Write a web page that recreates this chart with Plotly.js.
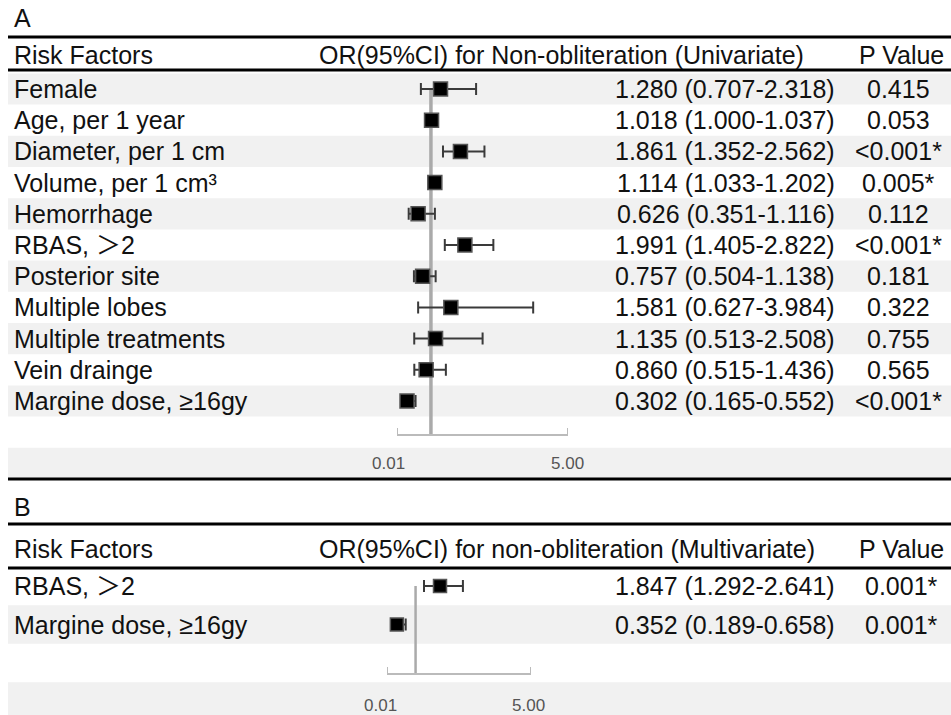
<!DOCTYPE html>
<html>
<head>
<meta charset="utf-8">
<script src="https://cdn.plot.ly/plotly-3.0.1.min.js"></script>
<style>html,body{margin:0;padding:0;background:#fff;}#chart{width:951px;height:715px;}</style>
</head>
<body>
<div id="chart"></div>
<script>
// ---------- data (panel A: univariate) ----------
const factorsA = ["Female", "Age, per 1 year", "Diameter, per 1 cm", "Volume, per 1 cm³", "Hemorrhage",
  "RBAS, ＞2", "Posterior site", "Multiple lobes", "Multiple treatments", "Vein drainge", "Margine dose, ≥16gy"];
const orA   = [1.280, 1.018, 1.861, 1.114, 0.626, 1.991, 0.757, 1.581, 1.135, 0.860, 0.302];
const lowA  = [0.707, 1.000, 1.352, 1.033, 0.351, 1.405, 0.504, 0.627, 0.513, 0.515, 0.165];
const highA = [2.318, 1.037, 2.562, 1.202, 1.116, 2.822, 1.138, 3.984, 2.508, 1.436, 0.552];
const pA    = ["0.415", "0.053", "<0.001*", "0.005*", "0.112", "<0.001*", "0.181", "0.322", "0.755", "0.565", "<0.001*"];

// ---------- data (panel B: multivariate) ----------
const factorsB = ["RBAS, ＞2", "Margine dose, ≥16gy"];
const orB   = [1.847, 0.352];
const lowB  = [1.292, 0.189];
const highB = [2.641, 0.658];
const pB    = ["0.001*", "0.001*"];

const tickVals = [0.01, 5];
const tickText = ["0.01", "5.00"];
const headerA = ["Risk Factors", "OR(95%CI) for Non-obliteration (Univariate)", "P Value"];
const headerB = ["Risk Factors", "OR(95%CI) for non-obliteration (Multivariate)", "P Value"];

// ---------- layout geometry ----------
const W = 951, H = 715;
const P = py => 1 - py / H;      // pixel y -> paper
const X = px => px / W;          // pixel x -> paper
const FONT = "Liberation Sans, Arial, Helvetica, Noto Sans CJK SC, sans-serif";
const FS = 25;
const TXT = "#111";

const rowA0 = 89, rhA = 31.2;     // first row centre, row height (panel A)
const rowB0 = 586, rhB = 38.5;    // panel B
const iA = py => 1 + (py - rowA0) / rhA;
const iB = py => 1 + (py - rowB0) / rhB;
const splitPy = 480;
const axisPyA = 435, axisPyB = 674;
const tickLabPyA = 463, tickLabPyB = 705;

const fmt = v => v.toFixed(3);
const idxA = factorsA.map((_, i) => i + 1);
const idxB = factorsB.map((_, i) => i + 1);

const traces = [
  {
    type: "scatter", mode: "markers", x: orA, y: idxA, xaxis: "x", yaxis: "y",
    marker: {symbol: "square", size: 14, color: "#000", line: {color: "#555", width: 1.5}},
    error_x: {type: "data", symmetric: false,
      array: highA.map((h, i) => h - orA[i]), arrayminus: lowA.map((l, i) => orA[i] - l),
      color: "#3a3a3a", thickness: 2, width: 6},
    hoverinfo: "skip", showlegend: false
  },
  {
    type: "scatter", mode: "markers", x: orB, y: idxB, xaxis: "x2", yaxis: "y2",
    marker: {symbol: "square", size: 13, color: "#000", line: {color: "#555", width: 1.5}},
    error_x: {type: "data", symmetric: false,
      array: highB.map((h, i) => h - orB[i]), arrayminus: lowB.map((l, i) => orB[i] - l),
      color: "#3a3a3a", thickness: 2, width: 6},
    hoverinfo: "skip", showlegend: false
  }
];

const shapes = [];
const annotations = [];
const band = "#f1f1f1";

// row bands A
for (let i = 1; i <= factorsA.length + 2; i++) {
  if (i % 2 === 1) shapes.push({type: "rect", layer: "below", xref: "paper", yref: "y",
    x0: X(8), x1: 1, y0: i - 0.5, y1: i + 0.5, fillcolor: band, line: {width: 0}});
}
// row bands B
for (let i = 1; i <= factorsB.length + 2; i++) {
  if (i % 2 === 0) shapes.push({type: "rect", layer: "below", xref: "paper", yref: "y2",
    x0: X(8), x1: 1, y0: i - 0.5, y1: i + 0.5, fillcolor: band, line: {width: 0}});
}
// thick rules
[37, 70, 479, 524, 568].forEach(py => shapes.push({type: "line", xref: "paper", yref: "paper",
  x0: X(8), x1: 1, y0: P(py), y1: P(py), line: {color: "#000", width: 3}}));
// reference lines at OR = 1
shapes.push({type: "line", layer: "below", xref: "x", yref: "y", x0: 1, x1: 1, y0: 1, y1: iA(axisPyA),
  line: {color: "#aaaaaa", width: 3.5}});
shapes.push({type: "line", layer: "below", xref: "x2", yref: "y2", x0: 1, x1: 1, y0: 1, y1: iB(axisPyB),
  line: {color: "#aaaaaa", width: 2.5}});
// bracket end ticks (pointing up) and their labels, placed on the axis scale
const shiftA = [-9, -1], shiftB = [-7, -3];
tickVals.forEach((v, k) => {
  shapes.push({type: "line", xref: "x", yref: "paper", x0: v, x1: v, y0: P(axisPyA), y1: P(axisPyA - 7),
    line: {color: "#bbbbbb", width: 2}});
  shapes.push({type: "line", xref: "x2", yref: "paper", x0: v, x1: v, y0: P(axisPyB), y1: P(axisPyB - 7),
    line: {color: "#bbbbbb", width: 2}});
  annotations.push({text: tickText[k], xref: "x", x: v, yref: "paper", y: P(tickLabPyA), xshift: shiftA[k],
    xanchor: "center", yanchor: "middle", showarrow: false,
    font: {family: FONT, size: 17, color: "#555555"}});
  annotations.push({text: tickText[k], xref: "x2", x: v, yref: "paper", y: P(tickLabPyB), xshift: shiftB[k],
    xanchor: "center", yanchor: "middle", showarrow: false,
    font: {family: FONT, size: 17, color: "#555555"}});
});

function ann(text, px, yref, y, xanchor) {
  annotations.push({text: text, xref: "paper", x: X(px), yref: yref, y: y,
    xanchor: xanchor, yanchor: "middle", showarrow: false,
    font: {family: FONT, size: FS, color: TXT}});
}
// panel labels and headers
ann("A", 12, "paper", P(18), "left");
ann(headerA[0], 12, "paper", P(55), "left");
ann(headerA[1], 317, "paper", P(55), "left");
ann(headerA[2], 901, "paper", P(55), "center");
ann("B", 12, "paper", P(507), "left");
ann(headerB[0], 12, "paper", P(549), "left");
ann(headerB[1], 317, "paper", P(549), "left");
ann(headerB[2], 901, "paper", P(549), "center");
// rows
factorsA.forEach((f, i) => {
  ann(f, 12, "y", i + 1, "left");
  ann(fmt(orA[i]) + " (" + fmt(lowA[i]) + "-" + fmt(highA[i]) + ")", 837, "y", i + 1, "right");
  ann(pA[i], 898, "y", i + 1, "center");
});
factorsB.forEach((f, i) => {
  ann(f, 12, "y2", i + 1, "left");
  ann(fmt(orB[i]) + " (" + fmt(lowB[i]) + "-" + fmt(highB[i]) + ")", 837, "y2", i + 1, "right");
  ann(pB[i], 901, "y2", i + 1, "center");
});

const layout = {
  width: W, height: H, margin: {l: 0, r: 0, t: 0, b: 0},
  paper_bgcolor: "#fff", plot_bgcolor: "rgba(0,0,0,0)",
  xaxis: {
    type: "linear", range: [0.01, 5], domain: [X(397), X(568)], anchor: "free", position: P(axisPyA),
    showline: true, linecolor: "#bbbbbb", linewidth: 2, ticks: "", showticklabels: false,
    showgrid: false, zeroline: false
  },
  xaxis2: {
    type: "linear", range: [0.01, 5], domain: [X(387), X(531)], anchor: "free", position: P(axisPyB),
    showline: true, linecolor: "#bbbbbb", linewidth: 2, ticks: "", showticklabels: false,
    showgrid: false, zeroline: false
  },
  yaxis: {domain: [P(splitPy), 1], range: [iA(splitPy), iA(0)], visible: false},
  yaxis2: {domain: [0, P(splitPy)], range: [iB(H), iB(splitPy)], visible: false},
  shapes: shapes, annotations: annotations, showlegend: false
};

Plotly.newPlot("chart", traces, layout, {displayModeBar: false});
</script>
</body>
</html>
